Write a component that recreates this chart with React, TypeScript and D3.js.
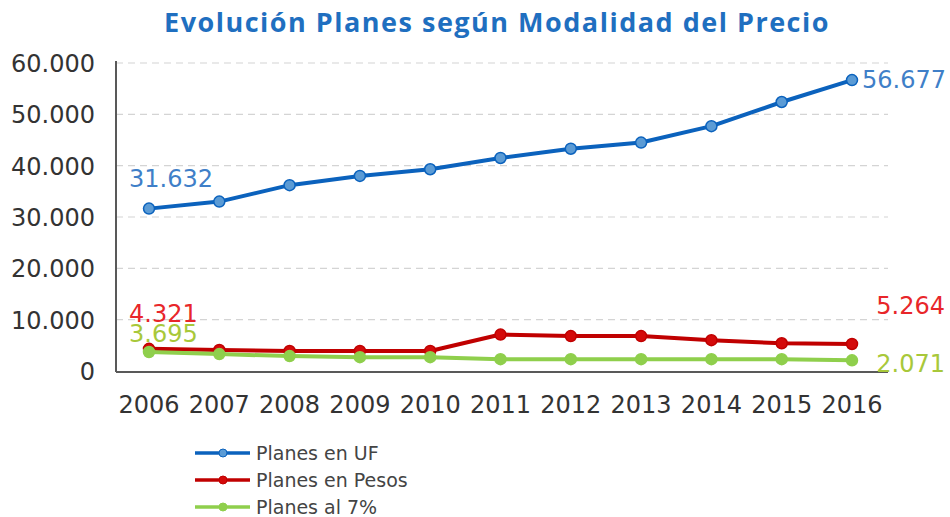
import React from "react";
import * as d3 from "d3";

const years = ["2006", "2007", "2008", "2009", "2010", "2011", "2012", "2013", "2014", "2015", "2016"];
const planesUF = [31632, 33000, 36200, 38000, 39300, 41500, 43300, 44500, 47700, 52400, 56677];
const planesPesos = [4321, 4100, 3900, 3900, 3900, 7100, 6800, 6800, 6000, 5400, 5264];
const planes7 = [3695, 3300, 2900, 2700, 2700, 2300, 2300, 2300, 2300, 2300, 2071];
const yTicks = [0, 10000, 20000, 30000, 40000, 50000, 60000];

const fmt = (v: number) => (v === 0 ? "0" : d3.format(",")(v).replace(/,/g, "."));

const series = [
  { name: "Planes en UF", values: planesUF, line: "#0b62bd", dot: "#5b9bd5", label: "#3f7fc8" },
  { name: "Planes en Pesos", values: planesPesos, line: "#c00000", dot: "#d40a0a", label: "#e8262a" },
  { name: "Planes al 7%", values: planes7, line: "#8fcf4c", dot: "#8fcf4c", label: "#a8c83a" },
];

// end labels, offset from the first / last point
const firstLabelDy = [-22, -27, -10];
const lastLabelDy = [0, -30, 12];

export default function App() {
  const left = 116, right = 888, top = 63, bottom = 371;
  const x = d3.scalePoint<string>().domain(years).range([149, 852]);
  const y = d3.scaleLinear().domain([0, 60000]).range([bottom, top]);
  const line = d3.line<number>().x((_, i) => x(years[i])!).y((d) => y(d));
  const font = "'DejaVu Sans', Verdana, sans-serif";

  return (
    <svg width={950} height={517} style={{ position: "absolute", left: 0, top: 0, background: "#fff" }}>
      <text x={497} y={32} textAnchor="middle" fontFamily="'Open Sans', sans-serif" fontWeight="bold" fontSize={27} letterSpacing={1.5} fill="#1f6fc0">
        Evolución Planes según Modalidad del Precio
      </text>

      {yTicks.map((t) => (
        <g key={t}>
          {t > 0 && (
            <line x1={left} x2={right} y1={y(t)} y2={y(t)} stroke="#d4d4d4" strokeWidth={1.2} strokeDasharray="7,5" />
          )}
          <text x={95} y={y(t) + 9} textAnchor="end" fontFamily={font} fontSize={24} fill="#333">
            {fmt(t)}
          </text>
        </g>
      ))}

      <line x1={left} x2={left} y1={top - 2} y2={bottom + 1} stroke="#595959" strokeWidth={2} />
      <line x1={left} x2={right} y1={bottom + 1} y2={bottom + 1} stroke="#595959" strokeWidth={2} />

      {years.map((yr) => (
        <text key={yr} x={x(yr)} y={413} textAnchor="middle" fontFamily={font} fontSize={24} fill="#333">
          {yr}
        </text>
      ))}

      {series.map((s, si) => (
        <g key={s.name}>
          <path d={line(s.values)!} fill="none" stroke={s.line} strokeWidth={4} strokeLinejoin="round" />
          {s.values.map((v, i) => (
            <circle key={i} cx={x(years[i])} cy={y(v)} r={5.5} fill={s.dot} stroke={s.line} strokeWidth={1.5} />
          ))}
          <text x={x(years[0])! - 20} y={y(s.values[0]) + firstLabelDy[si]} fontFamily={font} fontSize={24} fill={s.label}>
            {fmt(s.values[0])}
          </text>
          <text
            x={si === 0 ? x(years[10])! + 10 : 945}
            y={y(s.values[10]) + lastLabelDy[si] + (si === 0 ? 8 : 0)}
            textAnchor={si === 0 ? "start" : "end"}
            fontFamily={font}
            fontSize={24}
            fill={s.label}
          >
            {fmt(s.values[10])}
          </text>
        </g>
      ))}

      {series.map((s, si) => (
        <g key={s.name} transform={`translate(195, ${453 + si * 27})`}>
          <line x1={0} x2={55} y1={0} y2={0} stroke={s.line} strokeWidth={3.5} />
          <circle cx={28} cy={0} r={4} fill={s.dot} stroke={s.line} strokeWidth={1} />
          <text x={61} y={7} fontFamily={font} fontSize={19} fill="#444">
            {s.name}
          </text>
        </g>
      ))}
    </svg>
  );
}
